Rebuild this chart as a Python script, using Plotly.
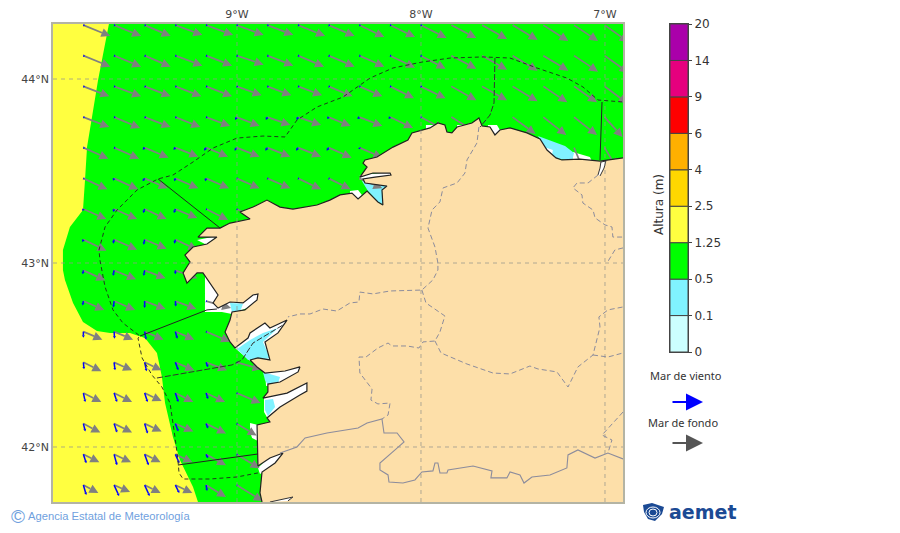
import math
import plotly.graph_objects as go

# sea state map, lon/lat
GREEN_LON = [-9.696, -9.728, -9.755, -9.788, -9.815, -9.826, -9.837, -9.908, -9.946, -9.946, -9.935, -9.891, -9.837,
             -9.761, -9.690, -9.582, -9.500, -9.435, -9.408, -9.391, -9.348, -9.310, -9.239, -9.212, -6.902, -6.902]
GREEN_LAT = [44.299, 44.141, 43.995, 43.793, 43.630, 43.451, 43.288, 43.196, 43.071, 42.962, 42.908, 42.783, 42.679,
             42.630, 42.620, 42.620, 42.592, 42.511, 42.380, 42.239, 42.054, 41.929, 41.783, 41.701, 41.701, 44.299]

LAND_LON = [-6.902, -7.027, -7.136, -7.234, -7.266, -7.315, -7.353, -7.424, -7.516, -7.571, -7.598, -7.625, -7.668,
            -7.685, -7.723, -7.804, -7.832, -7.859, -7.870, -7.908, -7.951, -8.049, -8.071, -8.152, -8.239, -8.304,
            -8.315, -8.293, -8.332, -8.261, -8.168, -8.163, -8.250, -8.315, -8.304, -8.185, -8.212, -8.207, -8.234,
            -8.293, -8.342, -8.375, -8.440, -8.495, -8.565, -8.696, -8.766, -8.837, -8.913, -8.984, -8.929, -9.038,
            -9.092, -9.163, -9.212, -9.109, -9.163, -9.239, -9.283, -9.255, -9.266, -9.293, -9.272, -9.217, -9.185,
            -9.158, -9.130, -9.103, -9.130, -9.103, -9.038, -8.967, -8.913, -8.886, -8.891, -8.957, -9.027, -9.038,
            -9.065, -9.038, -9.011, -8.940, -8.929, -8.848, -8.821, -8.728, -8.777, -8.848, -8.821, -8.886, -8.929,
            -8.891, -8.848, -8.739, -8.658, -8.668, -8.766, -8.832, -8.832, -8.859, -8.728, -8.647, -8.620, -8.620,
            -8.658, -8.766, -8.821, -8.837, -8.821, -8.891, -8.886, -8.821, -8.750, -8.793, -8.864, -8.875, -8.864]
LAND_LAT = [43.571, 43.554, 43.565, 43.560, 43.571, 43.614, 43.674, 43.707, 43.734, 43.723, 43.696, 43.739, 43.745,
            43.788, 43.761, 43.739, 43.707, 43.712, 43.750, 43.761, 43.734, 43.707, 43.668, 43.630, 43.576, 43.560,
            43.543, 43.522, 43.467, 43.489, 43.489, 43.478, 43.467, 43.457, 43.435, 43.418, 43.397, 43.315, 43.332,
            43.391, 43.348, 43.380, 43.370, 43.342, 43.315, 43.293, 43.304, 43.342, 43.304, 43.277, 43.239, 43.217,
            43.190, 43.190, 43.141, 43.141, 43.103, 43.087, 43.043, 43.005, 42.989, 42.946, 42.891, 42.946, 42.946,
            42.908, 42.864, 42.826, 42.783, 42.755, 42.788, 42.783, 42.826, 42.832, 42.799, 42.745, 42.734, 42.690,
            42.625, 42.571, 42.538, 42.592, 42.620, 42.674, 42.647, 42.690, 42.620, 42.571, 42.473, 42.484, 42.473,
            42.435, 42.402, 42.413, 42.435, 42.408, 42.353, 42.342, 42.299, 42.266, 42.293, 42.337, 42.348, 42.304,
            42.283, 42.217, 42.174, 42.158, 42.136, 42.120, 41.897, 41.940, 41.967, 41.913, 41.864, 41.750, 41.701]

# cells under 0.1 m and without data, in the rias
WHITE_LON = [-7.973, -7.929, -7.929, -7.973, None, -7.804, -7.772, -7.772, -7.804, None,
             -7.636, -7.587, -7.571, -7.598, -7.636, None, -7.174, -7.082, -7.071, -7.179, None,
             -8.386, -8.342, -8.321, -8.342, -8.386, None, -8.332, -8.158, -8.158, -8.332, None,
             -9.163, -9.109, -9.163, -9.217, None, -9.174, -9.082, -9.082, -9.174, None,
             -9.120, -9.038, -8.886, -8.875, -9.027, -9.082, None,
             -9.011, -8.929, -8.810, -8.712, -8.864, -8.951, None,
             -8.848, -8.647, -8.658, -8.766, -8.842, None,
             -8.853, -8.614, -8.614, -8.766, -8.832, -8.853, None,
             -8.929, -8.886, -8.886, -8.918, -8.929, None, -8.886, -8.821, -8.739, -8.793, -8.875]
WHITE_LAT = [43.750, 43.750, 43.717, 43.717, None, 43.750, 43.750, 43.720, 43.720, None,
             43.750, 43.750, 43.723, 43.685, 43.728, None, 43.603, 43.576, 43.554, 43.554, None,
             43.391, 43.397, 43.370, 43.337, 43.364, None, 43.478, 43.495, 43.473, 43.451, None,
             43.136, 43.147, 43.098, 43.125, None, 42.951, 42.880, 42.734, 42.734, None,
             42.755, 42.799, 42.837, 42.783, 42.723, 42.734, None,
             42.538, 42.467, 42.462, 42.701, 42.690, 42.603, None,
             42.408, 42.446, 42.402, 42.342, 42.331, None,
             42.266, 42.359, 42.299, 42.212, 42.152, 42.190, None,
             42.130, 42.120, 42.033, 42.049, 42.082, None, 41.886, 41.951, 41.973, 41.902, 41.853]

SHALLOW_LON = [-7.364, -7.299, -7.217, -7.168, -7.179, -7.272, -7.315, None,
               -9.038, -8.967, -8.984, -9.027, None,
               -9.000, -8.929, -8.859, -8.777, -8.859, -8.821, -8.886, -8.940, None,
               -8.859, -8.766, -8.777, -8.832, -8.848, None,
               -8.848, -8.804, -8.793, -8.832, -8.848, None,
               -8.321, -8.180, -8.212, -8.201, -8.234, -8.288]
SHALLOW_LAT = [43.690, 43.668, 43.636, 43.598, 43.554, 43.571, 43.609, None,
               42.783, 42.778, 42.734, 42.729, None,
               42.533, 42.582, 42.620, 42.647, 42.571, 42.484, 42.473, 42.473, None,
               42.408, 42.380, 42.348, 42.337, 42.364, None,
               42.255, 42.261, 42.217, 42.168, 42.201, None,
               43.446, 43.424, 43.380, 43.315, 43.332, 43.391]

BANK_LON = [-7.315, -7.283, -7.288, -7.326]
BANK_LAT = [43.625, 43.614, 43.587, 43.603]

ESTUARY_LON = [-7.038, -7.027, -7.022, -6.995, -7.005, -7.027, None, -8.821, -8.739, -8.696, -8.723]
ESTUARY_LAT = [43.478, 43.516, 43.549, 43.554, 43.516, 43.473, None, 41.701, 41.717, 41.728, 41.707]

ARC_LON = [-8.886, -9.000, -9.147, -9.293, -9.315, -9.321, -9.337, -9.364, -9.408, -9.462, -9.516, -9.538, -9.527,
           -9.620, -9.674, -9.717, -9.745, -9.750, -9.717, -9.652, -9.543, -9.429, -9.348, -9.239, -9.130, -9.000,
           -8.859, -8.739, -8.674, -8.565, -8.424, -8.277, -8.152, -7.995, -7.842, -7.663, -7.516, -7.370, -7.207,
           -7.120, -7.038, -6.902]
ARC_LAT = [41.859, 41.837, 41.826, 41.826, 41.859, 41.929, 42.054, 42.239, 42.326, 42.391, 42.484, 42.592, 42.603,
           42.674, 42.745, 42.870, 43.016, 43.071, 43.196, 43.288, 43.397, 43.457, 43.478, 43.549, 43.625, 43.679,
           43.690, 43.685, 43.777, 43.848, 43.902, 44.005, 44.060, 44.092, 44.114, 44.120, 44.114, 44.060, 44.005,
           43.957, 43.886, 43.875]

ZONE_LON = [-9.429, -9.092, None, -9.527, -9.163, -9.109, None, -9.321, -8.886, None, -7.016, -7.027]
ZONE_LAT = [43.457, 43.190, None, 42.603, 42.745, 42.750, None, 41.902, 41.962, None, 43.875, 43.560]
ZONE_DASH_LON = [-9.435, -9.027, -8.973, -8.913, -8.750, None, -7.598, -7.603, -7.625, -7.679]
ZONE_DASH_LAT = [42.375, 42.446, 42.473, 42.565, 42.663, None, 44.114, 43.870, 43.804, 43.739]

PROV_LON = [-7.685, -7.696, -7.750, -7.761, -7.804, -7.880, -7.897, -7.940, -7.962, -7.924, -7.908, -7.908, -7.935,
            -7.995, -8.168, -8.261, -8.332, -8.337, -8.386, -8.457, -8.533, -8.603, -8.658, -8.723, None,
            -7.995, -7.973, -7.870, -7.897, -7.924, -7.989, -8.011, -8.076, -8.158, -8.179, -8.234, -8.299, -8.337,
            -8.332, -8.266, -8.272, -8.234, -8.168, -8.179, -8.212, None,
            -7.924, -7.891, -7.750, -7.609, -7.516, -7.408, -7.364, -7.261, -7.201, -7.147, -7.065, -7.027, -7.033,
            -6.984, -6.902, None, -7.065, -6.984, -6.902, None, -6.902, -7.016, -6.962, -6.984, None,
            -7.038, -7.092, -7.152, -7.174, -7.125, -7.120, -7.065, -7.054, -7.000, -6.962, -6.957, -6.902, None,
            -6.902, -6.946, -6.989]
PROV_LAT = [43.739, 43.652, 43.560, 43.489, 43.435, 43.408, 43.332, 43.288, 43.190, 43.087, 43.000, 42.962, 42.908,
            42.853, 42.848, 42.832, 42.842, 42.788, 42.783, 42.739, 42.750, 42.723, 42.723, 42.707, None,
            42.853, 42.783, 42.712, 42.625, 42.576, 42.571, 42.538, 42.549, 42.549, 42.565, 42.538, 42.489, 42.489,
            42.402, 42.315, 42.255, 42.234, 42.239, 42.174, 42.152, None,
            42.576, 42.511, 42.451, 42.402, 42.397, 42.440, 42.424, 42.408, 42.326, 42.435, 42.500, 42.652, 42.707,
            42.745, 42.761, None, 42.500, 42.489, 42.511, None, 42.190, 42.065, 42.038, 41.967, None,
            43.478, 43.435, 43.435, 43.408, 43.370, 43.326, 43.288, 43.245, 43.207, 43.196, 43.141, 43.141, None,
            43.082, 43.071, 43.000]

BORDER_LON = [-8.766, -8.674, -8.630, -8.511, -8.342, -8.293, -8.212, -8.201, -8.130, -8.092, -8.141, -8.223, -8.223,
              -8.179, -8.174, -8.098, -8.033, -7.995, -7.935, -7.924, -7.908, -7.897, -7.859, -7.853, -7.717, -7.614,
              -7.620, -7.533, -7.516, -7.462, -7.440, -7.397, -7.299, -7.207, -7.201, -7.147, -7.054, -6.984, -6.902]
BORDER_LAT = [41.967, 42.000, 42.049, 42.076, 42.103, 42.130, 42.152, 42.076, 42.076, 42.027, 41.984, 41.913, 41.875,
              41.848, 41.810, 41.804, 41.821, 41.864, 41.870, 41.913, 41.913, 41.859, 41.859, 41.875, 41.897, 41.870,
              41.832, 41.832, 41.864, 41.848, 41.804, 41.837, 41.848, 41.886, 41.957, 41.984, 41.940, 41.967, 41.935]

# wave grid
GRID_LON = [-9.835, -9.668, -9.502, -9.335, -9.168, -9.002, -8.835, -8.668, -8.502,
            -8.335, -8.168, -8.002, -7.835, -7.668, -7.502, -7.335, -7.168, -7.002]
GRID_LAT = [44.293, 44.127, 43.960, 43.793, 43.627, 43.460, 43.293, 43.127,
            42.960, 42.793, 42.627, 42.460, 42.293, 42.127, 41.960, 41.793]

# arrow components, eastward / southward, one unit = 1/184 of a degree
SWELL_U = [
    [27, 27, 26, 27, 27, 27, 26, 27, 26, 25, 25, 26, 25, 25, 25, 25, 24, 24],
    [27, 27, 26, 27, 26, 27, 26, 26, 26, 25, 25, 25, 25, 25, 25, 25, 24, 24],
    [26, 27, 26, 26, 26, 25, 24, 24, 24, 23, 24, 25, 25, 25, 25, 24, 23, 23],
    [26, 26, 26, 25, 24, 23, 23, 23, 22, 23, 23, 23, 23, None, 23, 23, 23, 18],
    [25, 25, 24, 23, 22, 23, 23, 23, 23, 23, None, None, None, None, None, None, 10, 12],
    [24, 24, 23, 23, 23, 23, 23, 23, 22, 23],
    [23, 23, 22, 22, 22, 22],
    [23, 23, 22, 22],
    [22, 22, 21, 22],
    [21, 21, 21, 21, 25],
    [19, 19, 19, 19, 24],
    [18, 18, 17, 19, 21, 25],
    [18, 18, 17, 18, 19, 24],
    [17, 18, 17, 18, 20, 20],
    [16, 17, 16, 17, 20, 23],
    [15, 16, 16, 17, 20, 26],
]
SWELL_V = [
    [11, 11, 11, 10, 10, 10, 10, 11, 11, 12, 12, 13, 13, 14, 15, 16, 16, 17],
    [11, 11, 11, 10, 10, 9, 10, 11, 11, 11, 12, 13, 13, 14, 15, 15, 16, 17],
    [10, 10, 10, 10, 10, 9, 9, 9, 10, 10, 12, 12, 14, 14, 15, 16, 16, 17],
    [10, 11, 10, 10, 9, 9, 8, 8, 9, 9, 11, 12, 14, None, 17, 18, 18, 20],
    [11, 11, 10, 9, 9, 9, 9, 9, 10, 10, None, None, None, None, None, None, 24, 20],
    [11, 11, 10, 10, 10, 10, 10, 11, 11, 10],
    [10, 10, 10, 9, 11, 10],
    [11, 10, 9, 10],
    [10, 9, 8, 8],
    [9, 9, 8, 8, 7],
    [8, 8, 8, 8, 10],
    [9, 8, 8, 8, 8, 7],
    [9, 9, 8, 9, 9, 10],
    [9, 9, 8, 8, 10, 12],
    [8, 8, 8, 8, 11, 14],
    [8, 7, 8, 8, 12, 16],
]
WIND_U = [
    [1.5, 1.5, 1.5, 1.5, 1.5, 1.5, 1.5, 1.5, 1.5, 1.5, 1.5, 1.5],
    [1.5, 1.5, 1.5, 1.5, 1.5, 1.5, 1.5, 1.5, 1.5, 1.5, 1.5, 1.5],
    [1.5, 1.5, 1.5, 1.5, 1.5, 1.5, 1.5, 1.5, 1.5, 1.5, 1.5, 1.5],
    [1.5, 1.5, 1.5, 1.5, 1.5, -1.5, -1.5, -1.5, -1.5, -2, -1.5, 1.5],
    [1.5, 1.5, -2, -2, -2, -2, -2, -2, -2, 0.7],
    [1, -1, -2, -1, -1, 1, 1, 1, 1],
    [-1, -1, -1.5, -1.5, 1, 1],
    [-1, -1, -1, -1],
    [-0.7, -1, -1, 0],
    [-0.7, -0.7, 0, 0.5, 1],
    [0, 0.5, 1.5, 2, 1],
    [0.7, 1, 2, 3, 2, 1],
    [2, 3, 3, 3, 2, 1],
    [2, 3, 3, 3, 2, 1],
    [3, 3, 4, 4, 2, 1],
    [3, 5, 5, 4, 1, 1],
]
WIND_V = [
    [0.5, 0.5, 0.5, 0.5, 0.5, 0.5, 0.5, 0.5, 0.5, 0.5, 0.5, 0.5],
    [0.5, 0.5, 0.5, 0.5, 0.5, 0.5, 0.5, 0.5, 0.5, 0.5, 0.5, 0.5],
    [0.5, 0.5, 0.5, 0.5, 0.5, 0.5, 0.5, 0.5, 0.5, 0.5, 0.5, 0.5],
    [0.5, 0.5, 0.5, 0.5, 0.5, 3, 3, 3, 2, 2, 2, 0.5],
    [0.5, 0.5, 2, 2, 3, 3, 3, 3, 3, 1.5],
    [0.5, 2.5, 3, 3, 3, 0.5, 0.5, 0.5, 0.5],
    [2, 3, 4, 4, 0.5, 0.5],
    [2.5, 4, 5, 4],
    [4, 5.5, 5.5, 4],
    [4.5, 6.5, 7, 5.5, 0.5],
    [6, 7, 8, 7, 0.5],
    [7, 8, 9, 8, 5, 0.5],
    [9, 9, 9, 9, 6, 0.5],
    [8, 9, 10, 8, 5, 0.5],
    [9, 11, 11, 9, 4, 0.5],
    [10, 11, 11, 8, 6, 0.5],
]

LEVELS = ["0", "0.1", "0.5", "1.25", "2.5", "4", "6", "9", "14", "20"]
LEVEL_COLORS = ["#ccffff", "#80f2ff", "#00ff00", "#ffff40", "#ffd700", "#ffb000", "#ff0000", "#e6007e", "#aa00aa"]

LON_TICKS = [-9, -8, -7]
LON_LABELS = ["9°W", "8°W", "7°W"]
LAT_TICKS = [44, 43, 42]
LAT_LABELS = ["44°N", "43°N", "42°N"]

UNIT = 1 / 184
LON_RANGE = [-10.0, -6.902]
LAT_RANGE = [41.701, 44.299]
W, H = 900, 533


def px(x, y):
    return x / W, 1 - y / H


def arrows(us, vs, head_len, head_half):
    # shafts and head triangles for one field of arrows
    sx, sy, hx, hy = [], [], [], []
    for lat, u_row, v_row in zip(GRID_LAT, us, vs):
        for lon, u, v in zip(GRID_LON, u_row, v_row):
            if u is None:
                continue
            n = math.hypot(u, v)
            ex, ey = u / n, -v / n
            tip_x, tip_y = lon + u * UNIT, lat - v * UNIT
            back = min(head_len, n) * UNIT
            bx, by = tip_x - ex * back, tip_y - ey * back
            wx, wy = -ey * head_half * UNIT, ex * head_half * UNIT
            sx += [lon, bx, None]
            sy += [lat, by, None]
            hx += [tip_x, bx + wx, bx - wx, tip_x, None]
            hy += [tip_y, by + wy, by - wy, tip_y, None]
    return sx, sy, hx, hy


def area(lon, lat, color):
    return go.Scatter(x=lon, y=lat, mode="lines", fill="toself", fillcolor=color,
                      line=dict(color=color, width=0), hoverinfo="skip")


def path(lon, lat, color, width=1, dash="solid"):
    return go.Scatter(x=lon, y=lat, mode="lines", line=dict(color=color, width=width, dash=dash), hoverinfo="skip")


fig = go.Figure()

fig.add_trace(area(GREEN_LON, GREEN_LAT, "#00ff00"))
fig.add_trace(area(WHITE_LON, WHITE_LAT, "#ffffff"))
fig.add_trace(area(SHALLOW_LON, SHALLOW_LAT, "#80f2ff"))
fig.add_trace(area(BANK_LON, BANK_LAT, "#ffffff"))

sx, sy, hx, hy = arrows(SWELL_U, SWELL_V, 9, 4.5)
fig.add_trace(path(sx, sy, "#808080", 1.7))
fig.add_trace(area(hx, hy, "#808080"))
sx, sy, hx, hy = arrows(WIND_U, WIND_V, 2.5, 1.5)
fig.add_trace(path(sx, sy, "#0000ff", 1.5))
fig.add_trace(area(hx, hy, "#0000ff"))

# land fill closes along the map edge, the coast line stays open
fig.add_trace(area(LAND_LON + [-6.902], LAND_LAT + [41.701], "#fddfa9"))
fig.add_trace(path(LAND_LON, LAND_LAT, "#222222", 1.2))
fig.add_trace(area(ESTUARY_LON, ESTUARY_LAT, "#ffffff"))
fig.add_trace(path(ESTUARY_LON, ESTUARY_LAT, "#333333", 1))

# graticule
grid_x, grid_y = [], []
for lon in LON_TICKS:
    grid_x += [lon, lon, None]
    grid_y += [LAT_RANGE[0], LAT_RANGE[1], None]
for lat in LAT_TICKS:
    grid_x += [LON_RANGE[0], LON_RANGE[1], None]
    grid_y += [lat, lat, None]
fig.add_trace(path(grid_x, grid_y, "rgba(150,150,140,0.75)", 1, "4px,4px"))

fig.add_trace(path(PROV_LON, PROV_LAT, "#8c8c9c", 1, "5px,3px"))
fig.add_trace(path(BORDER_LON, BORDER_LAT, "#8c8c9c", 1.1))
fig.add_trace(path(ARC_LON, ARC_LAT, "#222222", 0.9, "4px,3px"))
fig.add_trace(path(ZONE_LON, ZONE_LAT, "#222222", 1))
fig.add_trace(path(ZONE_DASH_LON, ZONE_DASH_LAT, "#333333", 1, "6px,2px"))

# colour scale, equal height per class
for i, color in enumerate(LEVEL_COLORS):
    fig.add_trace(go.Bar(x=[0.5], y=[1], base=[i], width=[1], xaxis="x2", yaxis="y2",
                         marker=dict(color=color, line=dict(color="#444444", width=1)), hoverinfo="skip"))

annotations = []


def label(x, y, text, size, color="#333333", family="DejaVu Sans", anchor="center", angle=0):
    ax, ay = px(x, y)
    annotations.append(dict(x=ax, y=ay, xref="paper", yref="paper", text=text, showarrow=False, textangle=angle,
                            xanchor=anchor, yanchor="middle", font=dict(size=size, color=color, family=family)))


label(659, 205, "Altura (m)", 12, angle=-90)
label(686, 375, "Mar de viento", 11, family="Noto Sans")
label(683, 422, "Mar de fondo", 11, family="Noto Sans")
label(26, 516, "Agencia Estatal de Meteorología", 11.2, "#6f9fde", "Liberation Sans", "left")
label(9, 516, "©", 19, "#6f9fde", "Liberation Sans", "left")
label(667, 512, "<b>aemet</b>", 19, "#1b4a94", "DejaVu Sans", "left")

for y, color in ((402, "#0000ff"), (443, "#555555")):
    ax, ay = px(703, y)
    annotations.append(dict(x=ax, y=ay, xref="paper", yref="paper", text="", showarrow=True, ax=-32, ay=0,
                            arrowhead=2, arrowsize=1.7, arrowwidth=2, arrowcolor=color))

# logo emblem
shapes = []
logo = [(643, 505), (652, 503), (664, 507), (662, 514), (655, 521), (648, 519), (644, 512)]
logo_path = "M " + " L ".join("%f,%f" % px(x, y) for x, y in logo) + " Z"
shapes.append(dict(type="path", xref="paper", yref="paper", path=logo_path, fillcolor="#1b4a94", line_width=0))
for x0, y0, x1, y1 in ((646, 507, 660, 518), (649, 509, 657, 516)):
    a0, b0 = px(x0, y0)
    a1, b1 = px(x1, y1)
    shapes.append(dict(type="circle", xref="paper", yref="paper", x0=a0, y0=b0, x1=a1, y1=b1,
                       line=dict(color="#ffffff", width=1)))

frame = "#b4b4a4"
fig.update_layout(
    width=W, height=H,
    margin=dict(l=0, r=0, t=0, b=0, autoexpand=False),
    paper_bgcolor="#ffffff",
    plot_bgcolor="#ffff40",
    showlegend=False,
    barmode="overlay",
    annotations=annotations,
    shapes=shapes,
    xaxis=dict(domain=[53 / W, 623 / W], range=LON_RANGE, side="top", tickvals=LON_TICKS, ticktext=LON_LABELS,
               showgrid=False, zeroline=False, showline=True, mirror=True, linecolor=frame, linewidth=1.5,
               tickfont=dict(size=11, color="#444444", family="DejaVu Sans")),
    yaxis=dict(domain=[1 - 502 / H, 1 - 24 / H], range=LAT_RANGE, tickvals=LAT_TICKS, ticktext=LAT_LABELS,
               showgrid=False, zeroline=False, showline=True, mirror=True, linecolor=frame, linewidth=1.5,
               tickfont=dict(size=11, color="#444444", family="DejaVu Sans")),
    xaxis2=dict(domain=[670 / W, 688 / W], range=[0, 1], anchor="y2", showticklabels=False, ticks="",
                showgrid=False, zeroline=False, showline=True, mirror=True, linecolor="#444444", linewidth=1),
    yaxis2=dict(domain=[1 - 352 / H, 1 - 24 / H], range=[0, 9], anchor="x2", side="right",
                tickvals=list(range(len(LEVELS))), ticktext=LEVELS, ticks="outside", ticklen=3, tickcolor="#444444",
                showgrid=False, zeroline=False, showline=True, mirror=True, linecolor="#444444", linewidth=1,
                tickfont=dict(size=12, color="#333333", family="DejaVu Sans")),
)

# the page's default body margin would push the figure off by 8px
fig.write_html("out.html", config={"displayModeBar": False}, post_script="document.body.style.margin='0';")
